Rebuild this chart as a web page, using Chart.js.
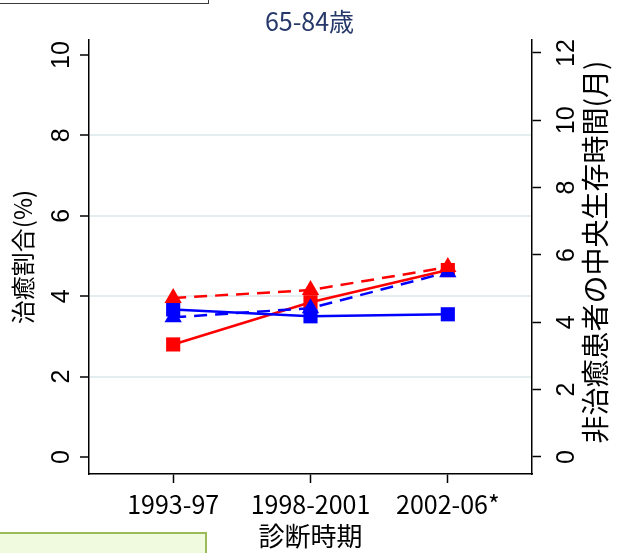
<!DOCTYPE html>
<html lang="ja">
<head>
<meta charset="UTF-8">
<title>65-84歳</title>
<style>
    body {
        margin: 0;
        background: #fff;
    }
    .wrap {
        position: relative;
        width: 619px;
        height: 553px;
        overflow: hidden;
    }
    /* 上の枠と下の緑の枠（図の外側の部分） */
    .topbox {
        position: absolute;
        left: -3px;
        top: -19px;
        width: 210px;
        height: 21px;
        border: 1.5px solid #3a3a3a;
        background: #fff;
    }
    .notebox {
        position: absolute;
        left: -3px;
        top: 532px;
        width: 206px;
        height: 40px;
        border: 2px solid #9bbb59;
        background: #effadf;
    }
</style>
</head>
<body>
<div class="wrap">
    <canvas id="chart"></canvas>
    <div class="topbox"></div>
    <div class="notebox"></div>
</div>

<script src="https://cdn.jsdelivr.net/npm/chart.js"></script>
<script>
    // データ
    var categories = ['1993-97', '1998-2001', '2002-06*'];
    var cureRed = [2.8, 3.85, 4.65];      // 治癒割合(%) 赤・実線
    var cureBlue = [3.67, 3.5, 3.55];     // 治癒割合(%) 青・実線
    var survRed = [4.72, 4.96, 5.64];     // 中央生存時間(月) 赤・破線
    var survBlue = [4.15, 4.42, 5.49];    // 中央生存時間(月) 青・破線
    var leftTicks = [0, 2, 4, 6, 8, 10];
    var rightTicks = [0, 2, 4, 6, 8, 10, 12];

    var titleText = '65-84歳';
    var xTitle = '診断時期';
    var leftTitle = '治癒割合(%)';
    var rightTitle = '非治癒患者の中央生存時間(月)';

    var RED = '#ff0000';
    var BLUE = '#0000ff';
    var CJK = '"Noto Sans CJK JP", sans-serif';

    function points(values) {
        return values.map(function(v, i) { return {x: i + 1, y: v}; });
    }

    function setTicks(list) {
        return function(scale) {
            scale.ticks = list.map(function(v) { return {value: v}; });
        };
    }

    // 縦軸タイトルは位置を合わせるため手で描く
    var axisTitles = {
        id: 'axisTitles',
        afterDraw: function(chart) {
            var ctx = chart.ctx;
            var a = chart.chartArea;
            ctx.save();
            ctx.fillStyle = '#000';
            ctx.textAlign = 'center';
            ctx.textBaseline = 'middle';

            ctx.font = '24px ' + CJK;
            ctx.save();
            ctx.translate(a.left - 66, a.top + 217);
            ctx.rotate(-Math.PI / 2);
            ctx.fillText(leftTitle, 0, 0);
            ctx.restore();

            ctx.font = '28px ' + CJK;
            ctx.translate(a.right + 63, a.top + 212);
            ctx.rotate(-Math.PI / 2);
            ctx.fillText(rightTitle, 0, 0);
            ctx.restore();
        }
    };

    var ctx = document.getElementById('chart').getContext('2d');
    new Chart(ctx, {
        type: 'line',
        data: {
            datasets: [{
                data: points(survRed),
                yAxisID: 'y2',
                borderColor: RED,
                backgroundColor: RED,
                borderWidth: 2.5,
                borderDash: [13, 8],
                pointStyle: 'triangle',
                pointRadius: 10,
                pointBorderWidth: 0
            }, {
                data: points(survBlue),
                yAxisID: 'y2',
                borderColor: BLUE,
                backgroundColor: BLUE,
                borderWidth: 2.5,
                borderDash: [13, 8],
                pointStyle: 'triangle',
                pointRadius: 10,
                pointBorderWidth: 0
            }, {
                data: points(cureBlue),
                yAxisID: 'y',
                borderColor: BLUE,
                backgroundColor: BLUE,
                borderWidth: 2.5,
                pointStyle: 'rect',
                pointRadius: 10,
                pointBorderWidth: 0
            }, {
                data: points(cureRed),
                yAxisID: 'y',
                borderColor: RED,
                backgroundColor: RED,
                borderWidth: 2.5,
                pointStyle: 'rect',
                pointRadius: 10,
                pointBorderWidth: 0
            }]
        },
        options: {
            responsive: true,
            maintainAspectRatio: false,
            animation: false,
            layout: { padding: 0 },
            plugins: {
                legend: { display: false },
                tooltip: { enabled: false },
                title: {
                    display: true,
                    text: titleText,
                    color: '#26396a',
                    font: { family: CJK, size: 25, weight: 'normal' },
                    padding: { top: 6, bottom: 4 }
                }
            },
            scales: {
                x: {
                    type: 'linear',
                    min: 0.387,
                    max: 3.613,
                    afterBuildTicks: setTicks([1, 2, 3]),
                    afterFit: function(scale) { scale.height = 79; },
                    border: { color: '#000', width: 1.5 },
                    grid: { drawOnChartArea: false, tickColor: '#000', tickLength: 9, tickWidth: 1.5 },
                    ticks: {
                        color: '#000',
                        font: { family: CJK, size: 25 },
                        padding: 6,
                        maxRotation: 0,
                        callback: function(v) { return categories[v - 1]; }
                    },
                    title: {
                        display: true,
                        text: xTitle,
                        color: '#000',
                        font: { family: CJK, size: 26 },
                        padding: { top: 0, bottom: 1 }
                    }
                },
                y: {
                    position: 'left',
                    min: -0.423,
                    max: 10.373,
                    afterBuildTicks: setTicks(leftTicks),
                    afterFit: function(scale) { scale.width = 89; },
                    border: { color: '#000', width: 1.5 },
                    grid: {
                        color: function(c) {
                            var v = c.tick ? c.tick.value : null;
                            return (v === 0 || v === 10) ? 'rgba(0,0,0,0)' : '#e4eef0';
                        },
                        lineWidth: 2,
                        tickColor: '#000',
                        tickLength: 9,
                        tickWidth: 1.5
                    },
                    ticks: {
                        color: '#000',
                        font: { family: '"Liberation Sans", Arial, sans-serif', size: 25 },
                        minRotation: 90,
                        maxRotation: 90,
                        crossAlign: 'center',
                        padding: 4,
                        autoSkip: false
                    }
                },
                y2: {
                    position: 'right',
                    min: -0.505,
                    max: 12.386,
                    afterBuildTicks: setTicks(rightTicks),
                    afterFit: function(scale) { scale.width = 87; },
                    border: { color: '#000', width: 1.5 },
                    grid: { drawOnChartArea: false, tickColor: '#000', tickLength: 9, tickWidth: 1.5 },
                    ticks: {
                        color: '#000',
                        font: { family: '"Liberation Sans", Arial, sans-serif', size: 25 },
                        minRotation: 90,
                        maxRotation: 90,
                        crossAlign: 'center',
                        padding: 12,
                        autoSkip: false
                    }
                }
            }
        },
        plugins: [axisTitles]
    });
</script>
</body>
</html>
